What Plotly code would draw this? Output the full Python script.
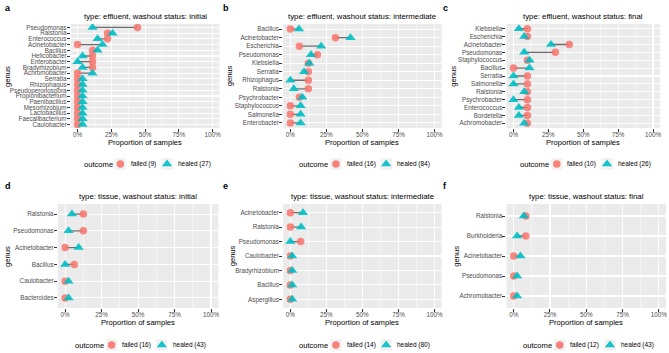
import plotly.graph_objects as go

W, H = 669, 353

# ---------------- data (percent of samples) ----------------
a_genus = ["Pseudomonas", "Ralstonia", "Enterococcus", "Acinetobacter", "Bacillus", "Helicobacter",
           "Enterobacter", "Bradyrhizobium", "Achromobacter", "Serratia", "Rhizophagus",
           "Pseudoperonospora", "Propionibacterium", "Paenibacillus", "Mesorhizobium",
           "Lactobacillus", "Faecalibacterium", "Caulobacter"]
a_failed = [44.4, 22.2, 22.2, 0, 11.1, 11.1, 11.1, 11.1, 0, 0, 0, 0, 0, 0, 0, 0, 0, 0]
a_healed = [11.1, 25.9, 14.8, 18.5, 14.8, 3.7, 0, 3.7, 11.1, 3.7, 3.7, 3.7, 3.7, 3.7, 3.7, 3.7, 3.7, 3.7]

b_genus = ["Bacillus", "Acinetobacter", "Escherichia", "Pseudomonas", "Klebsiella", "Serratia",
           "Rhizophagus", "Ralstonia", "Psychrobacter", "Staphylococcus", "Salmonella", "Enterobacter"]
b_failed = [0, 31.25, 6.25, 18.75, 12.5, 12.5, 12.5, 12.5, 6.25, 0, 0, 0]
b_healed = [6.0, 41.7, 21.4, 14.3, 13.1, 9.5, 0, 2.4, 8.3, 7.1, 7.1, 7.1]

c_genus = ["Klebsiella", "Escherichia", "Acinetobacter", "Pseudomonas", "Staphylococcus", "Bacillus",
           "Serratia", "Salmonella", "Ralstonia", "Psychrobacter", "Enterococcus", "Bordetella",
           "Achromobacter"]
c_failed = [10, 10, 40, 30, 10, 0, 10, 10, 10, 10, 10, 10, 10]
c_healed = [3.85, 7.7, 26.9, 7.7, 11.5, 11.5, 0, 0, 7.7, 0, 3.85, 3.85, 7.7]

d_genus = ["Ralstonia", "Pseudomonas", "Acinetobacter", "Bacillus", "Caulobacter", "Bacteroides"]
d_failed = [12.5, 12.5, 0, 6.25, 0, 0]
d_healed = [4.65, 2.33, 9.3, 0, 2.33, 2.33]

e_genus = ["Acinetobacter", "Ralstonia", "Pseudomonas", "Caulobacter", "Bradyrhizobium", "Bacillus",
           "Aspergillus"]
e_failed = [0, 0, 7.14, 0, 0, 0, 0]
e_healed = [8.75, 7.5, 0, 1.25, 1.25, 1.25, 1.25]

f_genus = ["Ralstonia", "Burkholderia", "Acinetobacter", "Pseudomonas", "Achromobacter"]
f_failed = [8.33, 8.33, 0, 0, 0]
f_healed = [6.98, 2.33, 4.65, 2.33, 2.33]

panel_letters = ["a", "b", "c", "d", "e", "f"]
panel_titles = ["type: effluent, washout status: initial",
                "type: effluent, washout status: intermediate",
                "type: effluent, washout status: final",
                "type: tissue, washout status: initial",
                "type: tissue, washout status: intermediate",
                "type: tissue, washout status: final"]
n_failed = [9, 16, 10, 16, 14, 12]
n_healed = [27, 84, 26, 43, 80, 43]
x_ticks = [0, 25, 50, 75, 100]

panels = [(a_genus, a_failed, a_healed), (b_genus, b_failed, b_healed), (c_genus, c_failed, c_healed),
          (d_genus, d_failed, d_healed), (e_genus, e_failed, e_healed), (f_genus, f_failed, f_healed)]

# ---------------- layout geometry (pixels) ----------------
plot_px = [(71, 220, 24, 128), (284, 443, 24, 128), (508, 662, 24, 128),
           (58, 219, 204, 308), (284, 443, 204, 308), (508, 668, 204, 308)]
genus_x = [7, 230, 454, 7, 233, 457]
letter_pos = [(3, 8), (222, 8), (442, 8), (3, 186), (222, 186), (442, 186)]
legend_y = [164, 164, 164, 345, 345, 345]

RED = "#F8766D"
TEAL = "#00BFC4"
FONT = "Liberation Sans, Arial, sans-serif"
TICK_FS = 6.3
LEG_FS = 6.5
TITLE_FS = 7.6

# approximate Arial glyph widths (em)
_CW = {" ": .278, "(": .333, ")": .333, "a": .556, "c": .5, "d": .556, "e": .556, "f": .278,
       "h": .556, "i": .222, "l": .222, "m": .833, "o": .556, "t": .278, "u": .556}


def text_w(s, fs):
    return sum(_CW.get(ch, .556) for ch in s) * fs


def fx(px):
    return px / W


def fy(py):
    return 1 - py / H


fig = go.Figure()
annotations = []
shapes = []
layout_extra = {}
leg_mx, leg_my, leg_sym, leg_col = [], [], [], []

for i, (genus, failed, healed) in enumerate(panels):
    k = "" if i == 0 else str(i + 1)
    xa, ya = "x" + k, "y" + k
    x0, x1, y0, y1 = plot_px[i]
    n = len(genus)
    cat_order = list(reversed(genus))

    # segments
    sx, sy = [], []
    for g, f, h in zip(genus, failed, healed):
        sx += [f, h, None]
        sy += [g, g, None]
    fig.add_trace(go.Scatter(x=sx, y=sy, mode="lines", xaxis=xa, yaxis=ya,
                             line=dict(color="#6E6E6E", width=1.3),
                             showlegend=False, hoverinfo="skip"))
    fig.add_trace(go.Scatter(x=failed, y=genus, mode="markers", xaxis=xa, yaxis=ya,
                             marker=dict(symbol="circle", size=7.5, color=RED, opacity=0.85,
                                         line=dict(width=0)),
                             showlegend=False, name=f"failed ({n_failed[i]})"))
    fig.add_trace(go.Scatter(x=healed, y=genus, mode="markers", xaxis=xa, yaxis=ya,
                             marker=dict(symbol="triangle-up", size=9, color=TEAL, opacity=0.9,
                                         line=dict(width=0)),
                             showlegend=False, name=f"healed ({n_healed[i]})"))

    layout_extra["xaxis" + k] = dict(
        domain=[fx(x0), fx(x1)], anchor=ya, range=[-5, 105],
        tickmode="array", tickvals=x_ticks, ticktext=[f"{v}%" for v in x_ticks],
        showgrid=True, gridcolor="white", gridwidth=1.1,
        minor=dict(tickmode="array", tickvals=[12.5, 37.5, 62.5, 87.5], showgrid=True,
                   gridcolor="white", gridwidth=0.5, ticks=""),
        ticks="outside", ticklen=3, tickcolor="#333333", tickwidth=1,
        ticklabelstandoff=-3,
        tickfont=dict(size=TICK_FS, color="#4D4D4D", family=FONT),
        zeroline=False, showline=False, fixedrange=True)
    layout_extra["yaxis" + k] = dict(
        domain=[fy(y1), fy(y0)], anchor=xa, type="category",
        categoryorder="array", categoryarray=cat_order, range=[-0.6, n - 0.4],
        tickmode="array", tickvals=genus, ticktext=genus,
        showgrid=True, gridcolor="white", gridwidth=1.1,
        ticks="outside", ticklen=3, tickcolor="#333333", tickwidth=1,
        ticklabelstandoff=-1,
        tickfont=dict(size=TICK_FS, color="#4D4D4D", family=FONT),
        zeroline=False, showline=False, fixedrange=True)

    # plot background
    shapes.append(dict(type="rect", xref="paper", yref="paper", x0=fx(x0), x1=fx(x1), y0=fy(y1), y1=fy(y0),
                       fillcolor="#EBEBEB", line=dict(width=0), layer="below"))

    cxp = (x0 + x1) / 2
    cx = fx(cxp)
    annotations.append(dict(text=panel_titles[i], x=cx, y=fy(y0 - 8), xref="paper", yref="paper",
                            showarrow=False, xanchor="center", yanchor="middle",
                            font=dict(size=7.8, color="black", family=FONT)))
    annotations.append(dict(text="Proportion of samples", x=cx, y=fy(y1 + 14), xref="paper", yref="paper",
                            showarrow=False, xanchor="center", yanchor="middle",
                            font=dict(size=TITLE_FS, color="black", family=FONT)))
    annotations.append(dict(text="genus", x=fx(genus_x[i]), y=fy((y0 + y1) / 2), xref="paper", yref="paper",
                            showarrow=False, textangle=-90, xanchor="center", yanchor="middle",
                            font=dict(size=TITLE_FS, color="black", family=FONT)))
    lx, ly = letter_pos[i]
    annotations.append(dict(text=f"<b>{panel_letters[i]}</b>", x=fx(lx), y=fy(ly), xref="paper", yref="paper",
                            showarrow=False, xanchor="left", yanchor="middle",
                            font=dict(size=9, color="black", family=FONT)))

    # ---- legend (drawn manually, ggplot style) ----
    lab1 = f"failed ({n_failed[i]})"
    lab2 = f"healed ({n_healed[i]})"
    wt = text_w("outcome", TITLE_FS)
    w1 = text_w(lab1, LEG_FS)
    w2 = text_w(lab2, LEG_FS)
    key = 11.5
    total = wt + 4 + key + 3 + w1 + 7 + key + 3 + w2
    lyp = legend_y[i]
    px = cxp - total / 2
    annotations.append(dict(text="outcome", x=fx(px), y=fy(lyp), xref="paper", yref="paper",
                            showarrow=False, xanchor="left", yanchor="middle",
                            font=dict(size=TITLE_FS, color="black", family=FONT)))
    px += wt + 4
    for lab, wl, sym, col in [(lab1, w1, "circle", RED), (lab2, w2, "triangle-up", TEAL)]:
        shapes.append(dict(type="rect", xref="paper", yref="paper", x0=fx(px), x1=fx(px + key),
                           y0=fy(lyp + key / 2), y1=fy(lyp - key / 2),
                           fillcolor="#F2F2F2", line=dict(width=0), layer="below"))
        leg_mx.append(px + key / 2)
        leg_my.append(lyp)
        leg_sym.append(sym)
        leg_col.append(col)
        px += key + 3
        annotations.append(dict(text=lab, x=fx(px), y=fy(lyp), xref="paper", yref="paper",
                                showarrow=False, xanchor="left", yanchor="middle",
                                font=dict(size=LEG_FS, color="black", family=FONT)))
        px += wl + 7

# overlay axis in pixel units for legend keys
fig.add_trace(go.Scatter(x=leg_mx, y=leg_my, mode="markers", xaxis="x7", yaxis="y7",
                         marker=dict(symbol=leg_sym, color=leg_col, size=[7.5 if s == "circle" else 9 for s in leg_sym],
                                     opacity=0.9, line=dict(width=0)),
                         showlegend=False, hoverinfo="skip", cliponaxis=False))
layout_extra["xaxis7"] = dict(domain=[0, 1], range=[0, W], visible=False, fixedrange=True, anchor="y7")
layout_extra["yaxis7"] = dict(domain=[0, 1], range=[H, 0], visible=False, fixedrange=True, anchor="x7")

fig.update_layout(width=W, height=H, margin=dict(l=0, r=0, t=0, b=0),
                  paper_bgcolor="white", plot_bgcolor="rgba(0,0,0,0)", showlegend=False,
                  hovermode=False,
                  font=dict(family=FONT), annotations=annotations, shapes=shapes, **layout_extra)

fig.write_html("out.html", config={"displayModeBar": False, "staticPlot": True},
               post_script="document.body.style.margin='0';document.body.style.padding='0';"
                           "document.body.style.overflow='hidden';")
